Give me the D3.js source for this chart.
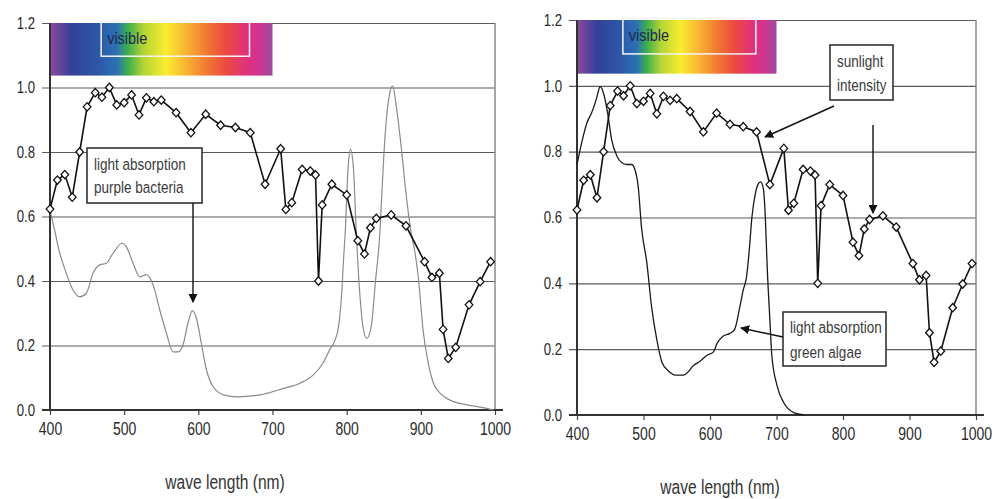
<!DOCTYPE html>
<html>
<head>
<meta charset="utf-8">
<script src="https://cdn.jsdelivr.net/npm/d3@7"></script>
<style>
  html, body { margin: 0; padding: 0; background: #fff; }
  svg { display: block; }
  text { font-family: "Liberation Sans", Arial, sans-serif; }
</style>
</head>
<body>
<svg id="chart" width="995" height="499"></svg>
<script>
// Solar spectrum at the surface (relative intensity) — same series in both panels
const sunWavelength = [400, 410, 420, 430, 440, 450, 461, 470, 480, 490, 500, 510, 520, 530, 540, 550,
  570, 590, 610, 630, 650, 670, 690, 711, 718, 726, 740, 751, 758, 762, 767, 780, 800, 815, 824, 832,
  840, 860, 880, 905, 915, 925, 930, 937, 947, 965, 980, 994];
const sunIntensity = [0.623, 0.713, 0.73, 0.66, 0.80, 0.94, 0.984, 0.97, 1.0, 0.946, 0.953, 0.977, 0.915,
  0.968, 0.956, 0.961, 0.922, 0.86, 0.917, 0.883, 0.876, 0.86, 0.70, 0.81, 0.622, 0.643, 0.746, 0.741,
  0.729, 0.40, 0.636, 0.70, 0.667, 0.525, 0.484, 0.565, 0.594, 0.605, 0.571, 0.46, 0.411, 0.424, 0.25,
  0.16, 0.194, 0.326, 0.398, 0.46];

// Absorption spectrum of purple bacteria
const bacteriaWavelength = [401, 404, 407, 411, 422, 431, 440, 449, 458, 467, 476, 485, 497, 503, 512,
  521, 530, 539, 548, 557, 566, 573, 580, 586, 592, 598, 604, 611, 620, 634, 652, 683, 715, 737, 755,
  768, 777, 784, 789, 793, 796, 798, 802, 805, 809, 813, 818, 822, 827, 833, 839, 845, 847, 852, 858,
  862, 867, 874, 880, 887, 892, 897, 903, 910, 917, 926, 939, 962, 989, 998];
const bacteriaAbsorption = [0.61, 0.58, 0.55, 0.506, 0.424, 0.372, 0.351, 0.362, 0.424, 0.45, 0.455,
  0.486, 0.517, 0.506, 0.455, 0.413, 0.42, 0.388, 0.31, 0.238, 0.18, 0.18, 0.207, 0.269, 0.308, 0.279,
  0.207, 0.124, 0.072, 0.047, 0.041, 0.047, 0.067, 0.083, 0.109, 0.145, 0.186, 0.215, 0.258, 0.351,
  0.475, 0.548, 0.754, 0.808, 0.754, 0.548, 0.351, 0.258, 0.222, 0.258, 0.403, 0.558, 0.651, 0.858,
  0.982, 1.005, 0.94, 0.806, 0.672, 0.548, 0.49, 0.403, 0.248, 0.145, 0.083, 0.052, 0.031, 0.016,
  0.005, 0.0];

// Absorption spectrum of green algae
const algaeWavelength = [400, 407, 415, 422, 429, 435, 441, 446, 452, 460, 467, 475, 482, 487, 492, 497,
  505, 512, 520, 528, 538, 548, 560, 568, 575, 585, 595, 605, 611, 620, 630, 637, 645, 650, 655, 659,
  663, 668, 672, 676, 680, 683, 686, 690, 693, 701, 711, 726, 742];
const algaeAbsorption = [0.761, 0.827, 0.888, 0.918, 0.959, 0.998, 0.969, 0.918, 0.837, 0.787, 0.767,
  0.761, 0.761, 0.746, 0.695, 0.57, 0.463, 0.331, 0.229, 0.159, 0.133, 0.121, 0.121, 0.133, 0.15,
  0.163, 0.181, 0.191, 0.219, 0.24, 0.248, 0.26, 0.33, 0.38, 0.42, 0.50, 0.60, 0.67, 0.70, 0.708,
  0.69, 0.61, 0.45, 0.29, 0.18, 0.088, 0.037, 0.007, 0.0];

const xTickValues = [400, 500, 600, 700, 800, 900, 1000];
const yTickValues = [0.0, 0.2, 0.4, 0.6, 0.8, 1.0, 1.2];
const yTickLabels = ["0.0", "0.2", "0.4", "0.6", "0.8", "1.0", "1.2"];
const axisTitle = "wave length (nm)";

// Colour band of the visible spectrum (400–700 nm), stops by fraction of the band
const spectrumStops = [0, 0.1, 0.22, 0.3, 0.35, 0.42, 0.52, 0.61, 0.7, 0.79, 0.88, 0.94, 1];
const spectrumColors = ["#8c4a9c", "#33409a", "#2d58a8", "#2b72b3", "#3daf4c", "#b4d436", "#f8ed2f",
  "#f8b533", "#f17b31", "#eb4a40", "#e1317b", "#cf3390", "#9b4b9b"];
const spectrumRange = [400, 700];
const visibleRange = [469, 669];
const spectrumLabel = "visible";

const NARROW = 0.8; // horizontal squeeze that gives the condensed lettering

const svg = d3.select("#chart");
const defs = svg.append("defs");

const grad = defs.append("linearGradient").attr("id", "spectrum")
  .attr("x1", "0%").attr("x2", "100%").attr("y1", "0%").attr("y2", "0%");
spectrumStops.forEach((s, i) => {
  grad.append("stop").attr("offset", s * 100 + "%").attr("stop-color", spectrumColors[i]);
});

defs.append("marker").attr("id", "arrowhead")
  .attr("viewBox", "0 0 10 10").attr("refX", 9).attr("refY", 5)
  .attr("markerWidth", 9).attr("markerHeight", 9).attr("markerUnits", "userSpaceOnUse")
  .attr("orient", "auto")
  .append("path").attr("d", "M0,0L10,5L0,10Z").attr("fill", "#111");

const diamond = "M0,-4.2L3.8,0L0,4.2L-3.8,0Z";

// squeeze text horizontally while keeping its anchor point in place
function narrow(sel, k = NARROW) {
  sel.each(function () {
    const t = d3.select(this);
    const x = +t.attr("x") || 0;
    t.attr("x", x / k).attr("transform", `scale(${k},1)`);
  });
  return sel;
}

function drawPanel(p) {
  const g = svg.append("g");
  const x = d3.scaleLinear().domain([400, 1000]).range([p.left, p.right]);
  const y = d3.scaleLinear().domain([0, 1.2]).range([p.bottom, p.top]);

  // horizontal grid lines with tick stubs on the left
  const yAxis = d3.axisLeft(y).tickValues(yTickValues)
    .tickFormat((d, i) => yTickLabels[i])
    .tickSize(-(p.right - p.left)).tickPadding(16);
  const ya = g.append("g").attr("transform", `translate(${p.left},0)`).call(yAxis);
  ya.select(".domain").remove();
  ya.selectAll(".tick line").attr("x1", -8).attr("stroke", "#5a5a5a").attr("stroke-width", 1.2);
  narrow(ya.selectAll(".tick text").attr("font-size", 16.5).attr("fill", "#2a2a2a").attr("x", -15));

  // right frame line
  g.append("line").attr("x1", p.right).attr("x2", p.right)
    .attr("y1", y(1.2)).attr("y2", y(0)).attr("stroke", "#8a8a8a").attr("stroke-width", 1.5);

  // spectrum band and its "visible" frame
  g.append("rect").attr("x", x(spectrumRange[0])).attr("y", y(1.2))
    .attr("width", x(spectrumRange[1]) - x(spectrumRange[0]))
    .attr("height", y(1.037) - y(1.2)).attr("fill", "url(#spectrum)");
  g.append("rect").attr("x", x(visibleRange[0])).attr("y", y(1.2) - 2)
    .attr("width", x(visibleRange[1]) - x(visibleRange[0]))
    .attr("height", y(1.097) - y(1.2) + 2)
    .attr("fill", "none").attr("stroke", "#f4f4f4").attr("stroke-width", 1.5);
  narrow(g.append("text").attr("x", x(visibleRange[0]) + 6).attr("y", y(1.2) + 21)
    .attr("font-size", 17).attr("fill", "#1d2850").text(spectrumLabel), 0.85);

  // left axis line
  g.append("line").attr("x1", p.left).attr("x2", p.left)
    .attr("y1", y(1.2)).attr("y2", y(0)).attr("stroke", "#333").attr("stroke-width", 2);

  // bottom axis
  const xAxis = d3.axisBottom(x).tickValues(xTickValues).tickFormat(d3.format("d"))
    .tickSize(5).tickPadding(8);
  const xa = g.append("g").attr("transform", `translate(0,${p.bottom})`).call(xAxis);
  xa.select(".domain").remove();
  xa.selectAll(".tick line").attr("stroke", "#444").attr("stroke-width", 1.2);
  narrow(xa.selectAll(".tick text").attr("font-size", 17.5).attr("fill", "#2a2a2a"));
  g.append("line").attr("x1", p.left - 8).attr("x2", p.right + 8)
    .attr("y1", p.bottom).attr("y2", p.bottom).attr("stroke", "#333").attr("stroke-width", 2);

  narrow(g.append("text").attr("x", p.titleX).attr("y", p.titleY).attr("text-anchor", "middle")
    .attr("font-size", 19.5).attr("fill", "#333").text(axisTitle));

  // absorption curve
  const absData = p.absWl.map((w, i) => [w, p.absVal[i]]);
  g.append("path").datum(absData)
    .attr("d", d3.line().x(d => x(d[0])).y(d => y(d[1])).curve(d3.curveMonotoneX))
    .attr("fill", "none").attr("stroke", p.absColor).attr("stroke-width", p.absWidth);

  // sunlight line with diamond markers
  const sunData = sunWavelength.map((w, i) => [w, sunIntensity[i]]);
  g.append("path").datum(sunData)
    .attr("d", d3.line().x(d => x(d[0])).y(d => y(d[1])))
    .attr("fill", "none").attr("stroke", "#111").attr("stroke-width", 1.6);
  g.selectAll(".sun").data(sunData).join("path").attr("class", "sun")
    .attr("transform", d => `translate(${x(d[0])},${y(d[1])})`)
    .attr("d", diamond).attr("fill", "#fff").attr("stroke", "#111").attr("stroke-width", 1.3);

  return { g, x, y };
}

function labelBox(g, bx, by, bw, bh, lines, lineY) {
  g.append("rect").attr("x", bx).attr("y", by).attr("width", bw).attr("height", bh)
    .attr("fill", "#fff").attr("stroke", "#333").attr("stroke-width", 1.6);
  lines.forEach((t, i) => {
    narrow(g.append("text").attr("x", bx + 7).attr("y", by + lineY[i])
      .attr("font-size", 16.5).attr("fill", "#3a3a3a").text(t), 0.82);
  });
}

function arrow(g, x1, y1, x2, y2) {
  g.append("line").attr("x1", x1).attr("y1", y1).attr("x2", x2).attr("y2", y2)
    .attr("stroke", "#111").attr("stroke-width", 1.4).attr("marker-end", "url(#arrowhead)");
}

// Left panel: purple bacteria
const left = drawPanel({
  left: 50, right: 495, top: 23, bottom: 410, titleX: 225, titleY: 489,
  absWl: bacteriaWavelength, absVal: bacteriaAbsorption, absColor: "#8a8a8a", absWidth: 1.2
});
labelBox(left.g, 87, 148, 115, 55, ["light absorption", "purple bacteria"], [22, 45]);
arrow(left.g, 193, 203, 193, 302);

// Right panel: green algae
const right = drawPanel({
  left: 577, right: 976, top: 20, bottom: 415, titleX: 720, titleY: 494,
  absWl: algaeWavelength, absVal: algaeAbsorption, absColor: "#1a1a1a", absWidth: 1.3
});
labelBox(right.g, 830, 45, 63, 55, ["sunlight", "intensity"], [22, 46]);
arrow(right.g, 834, 106, 765, 137);
arrow(right.g, 873, 125, 873, 213);
labelBox(right.g, 783, 312, 103, 54, ["light absorption", "green algae"], [21, 46]);
arrow(right.g, 783, 337, 741, 328);
</script>
</body>
</html>
